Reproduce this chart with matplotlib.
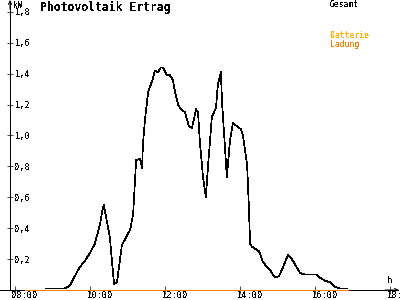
import matplotlib
matplotlib.use("Agg")
import matplotlib.pyplot as plt
from matplotlib.transforms import ScaledTranslation

plt.rcParams['font.family'] = ['DejaVu Sans Mono']
plt.rcParams['text.antialiased'] = False

# Gesamt (kW) over time of day (decimal hours)
gesamt_t = [8.83, 9.33, 9.47, 9.55, 9.73, 9.84, 10.00, 10.13, 10.27, 10.35, 10.37,
            10.53, 10.64, 10.72, 10.85, 11.07, 11.15, 11.20, 11.23, 11.33, 11.39,
            11.41, 11.47, 11.55, 11.68, 11.73, 11.81, 11.89, 11.95, 12.05, 12.13,
            12.21, 12.27, 12.35, 12.40, 12.53, 12.64, 12.72, 12.83, 12.88, 12.93,
            13.01, 13.09, 13.15, 13.25, 13.36, 13.41, 13.49, 13.52, 13.60, 13.65,
            13.73, 13.81, 13.92, 14.03, 14.08, 14.19, 14.23, 14.27, 14.32, 14.51,
            14.61, 14.80, 14.93, 15.04, 15.17, 15.28, 15.41, 15.60, 15.73, 16.05,
            16.13, 16.27, 16.40, 16.53, 16.67, 16.85]
gesamt_kw = [0.01, 0.01, 0.03, 0.07, 0.15, 0.18, 0.24, 0.30, 0.43, 0.54, 0.55,
             0.34, 0.04, 0.05, 0.29, 0.39, 0.49, 0.71, 0.84, 0.85, 0.79,
             0.94, 1.11, 1.28, 1.37, 1.42, 1.41, 1.44, 1.44, 1.39, 1.39,
             1.36, 1.28, 1.20, 1.18, 1.15, 1.06, 1.05, 1.17, 1.15, 0.96,
             0.74, 0.60, 0.81, 1.12, 1.18, 1.33, 1.41, 1.22, 0.92, 0.73,
             0.96, 1.08, 1.06, 1.04, 1.00, 0.81, 0.58, 0.30, 0.28, 0.25,
             0.18, 0.13, 0.08, 0.09, 0.16, 0.23, 0.19, 0.11, 0.10, 0.10,
             0.08, 0.06, 0.05, 0.02, 0.01, 0.01]

# Batterie / Ladung stay at zero
batt_t = [8.27, 16.88]
batt_kw = [0.0, 0.0]
ladung_t = [8.27, 16.88]
ladung_kw = [0.0, 0.0]

x_ticks = [8, 10, 12, 14, 16, 18]
x_labels = ['08:00', '10:00', '12:00', '14:00', '16:00', '18:00']
y_ticks = [0.2, 0.4, 0.6, 0.8, 1.0, 1.2, 1.4, 1.6, 1.8]
y_labels = ['0,2', '0,4', '0,6', '0,8', '1,0', '1,2', '1,4', '1,6', '1,8']

black = '#000000'
c_batt = '#FFB000'
c_lad = '#FF8000'
px = 0.5  # thin one pixel line at dpi 100

fig = plt.figure(figsize=(4, 3), dpi=100)
ax = fig.add_axes([0, 0, 1, 1])
xmin, xmax = 7.6, 18.267
ymin, ymax = -0.0647, 1.877
ax.set_xlim(xmin, xmax)
ax.set_ylim(ymin, ymax)
axis_x = xmin + 10 / 37.5

ax.plot(batt_t, batt_kw, color=c_batt, lw=px, antialiased=False, zorder=3)
ax.plot(ladung_t, ladung_kw, color=c_lad, lw=px, antialiased=False, zorder=4)
ax.plot(gesamt_t, gesamt_kw, color=black, lw=px, antialiased=False, zorder=5)

# axes as spines crossing at (axis_x, 0)
for s in ['top', 'right']:
    ax.spines[s].set_visible(False)
for s in ['left', 'bottom']:
    ax.spines[s].set_linewidth(px)
    ax.spines[s].set_antialiased(False)
ax.spines['left'].set_position(('data', axis_x))
ax.spines['bottom'].set_position(('data', 0))
ax.spines['left'].set_bounds(0, ymax - 0.005)
ax.spines['bottom'].set_bounds(xmin, xmax - 0.05)
ax.annotate('', xy=(axis_x, ymax), xytext=(axis_x, ymax - 0.06),
            arrowprops=dict(arrowstyle='->', lw=0.7, color=black, shrinkA=0, shrinkB=0,
                            mutation_scale=6))
ax.annotate('', xy=(xmax - 0.03, 0), xytext=(xmax - 0.4, 0),
            arrowprops=dict(arrowstyle='->', lw=0.7, color=black, shrinkA=0, shrinkB=0,
                            mutation_scale=6))

ax.set_xticks(x_ticks)
ax.set_xticklabels(x_labels, ha='left')
ax.set_yticks(y_ticks)
ax.set_yticklabels(y_labels, ha='left')
ax.tick_params(axis='x', direction='inout', length=6, width=px, labelsize=6.2, pad=-2.5)
ax.tick_params(axis='y', direction='inout', length=5, width=px, labelsize=6.2, pad=-6.0)
shift = ScaledTranslation(-3 / 100, 0, fig.dpi_scale_trans)
for lab in ax.get_xticklabels():
    lab.set_transform(lab.get_transform() + shift)

ax.text(axis_x + 0.08, ymax - 0.005, 'kW', fontsize=5.5, va='top', ha='left')
ax.text(xmax - 0.34, 0.035, 'h', fontsize=6.5, va='bottom', ha='left')
ax.text(0.1, 0.975, 'Photovoltaik Ertrag', transform=ax.transAxes, fontsize=8.3,
        fontweight='bold', va='center', ha='left')

ax.text(0.825, 0.985, 'Gesamt', transform=ax.transAxes, fontsize=5.8, color=black, va='center')
ax.text(0.825, 0.88, 'Batterie', transform=ax.transAxes, fontsize=5.8, color=c_batt, va='center')
ax.text(0.825, 0.853, 'Ladung', transform=ax.transAxes, fontsize=5.8, color=c_lad, va='center')

fig.savefig('out.png', dpi=100)
